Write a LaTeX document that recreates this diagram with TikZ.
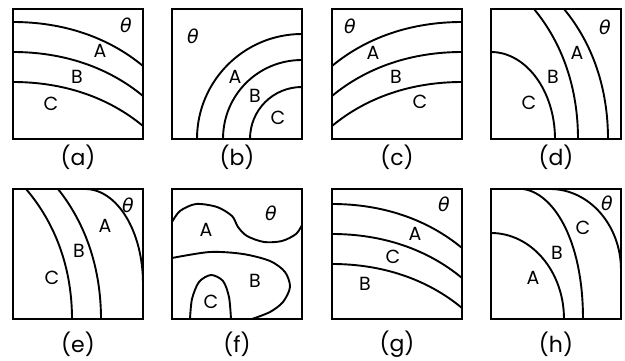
\documentclass[tikz,border=0pt]{standalone}
\usepackage{fontspec}
\setmainfont{Poppins}
\newfontfamily\greekfont{DejaVu Sans}
\tikzset{panel/.style = {line width = 2.2pt}}
\tikzset{zone/.style = {line width = 1.9pt}}
\tikzset{region/.style = {inner sep = 0, font = \fontsize{19}{19}\selectfont}}
\tikzset{phase/.style = {inner sep = 0, font = \greekfont\itshape\fontsize{19}{19}\selectfont}}
\tikzset{caption/.style = {inner sep = 0, font = \fontsize{22}{22}\selectfont}}

\begin{document}
\begin{tikzpicture}[x = 1pt, y = -1pt]
    \useasboundingbox (0, 0) rectangle (625, 361);

    % (a)
    \begin{scope}[shift = {(13, 9)}]
      \draw [panel] (0, 0) rectangle (130, 130);
      \draw [zone] (0, 13) .. controls (50, 13) and (95, 28) .. (130, 57);
      \draw [zone] (0, 43) .. controls (50, 43) and (95, 58) .. (130, 87);
      \draw [zone] (0, 73) .. controls (50, 73) and (95, 88) .. (130, 117);
      \node [phase] (a-theta) at (113, 16) {θ};
      \node [region] (a-A) at (87, 42) {A};
      \node [region] (a-B) at (64, 68) {B};
      \node [region] (a-C) at (38, 95) {C};
      \node [caption] (a-cap) at (65, 148) {(a)};
    \end{scope}

    % (b)
    \begin{scope}[shift = {(172, 9)}]
      \draw [panel] (0, 0) rectangle (130, 130);
      \draw [zone] (25, 130) .. controls (25, 72) and (72, 25) .. (130, 25);
      \draw [zone] (51, 130) .. controls (51, 86) and (86, 51) .. (130, 51);
      \draw [zone] (78, 130) .. controls (78, 101) and (101, 78) .. (130, 78);
      \node [phase] (b-theta) at (21, 27) {θ};
      \node [region] (b-A) at (63, 68) {A};
      \node [region] (b-B) at (83, 87) {B};
      \node [region] (b-C) at (106, 109) {C};
      \node [caption] (b-cap) at (65, 148) {(b)};
    \end{scope}

    % (c)
    \begin{scope}[shift = {(332, 9)}]
      \draw [panel] (0, 0) rectangle (130, 130);
      \draw [zone] (130, 13) .. controls (80, 13) and (35, 28) .. (0, 57);
      \draw [zone] (130, 43) .. controls (80, 43) and (35, 58) .. (0, 87);
      \draw [zone] (130, 73) .. controls (80, 73) and (35, 88) .. (0, 117);
      \node [phase] (c-theta) at (18, 17) {θ};
      \node [region] (c-A) at (41, 44) {A};
      \node [region] (c-B) at (64, 68) {B};
      \node [region] (c-C) at (88, 93) {C};
      \node [caption] (c-cap) at (65, 148) {(c)};
    \end{scope}

    % (d)
    \begin{scope}[shift = {(491, 9)}]
      \draw [panel] (0, 0) rectangle (130, 130);
      \draw [zone] (117, 130) .. controls (117, 80) and (102, 35) .. (73, 0);
      \draw [zone] (87, 130) .. controls (87, 80) and (72, 35) .. (43, 0);
      \draw [zone] (0, 43) .. controls (35, 43) and (64, 82) .. (64, 130);
      \node [phase] (d-theta) at (114, 18) {θ};
      \node [region] (d-A) at (86, 44) {A};
      \node [region] (d-B) at (62, 68) {B};
      \node [region] (d-C) at (38, 94) {C};
      \node [caption] (d-cap) at (65, 148) {(d)};
    \end{scope}

    % (e)
    \begin{scope}[shift = {(13, 189)}]
      \draw [panel] (0, 0) rectangle (130, 130);
      \draw [zone] (72, 0) .. controls (104, 0) and (130, 42) .. (130, 95);
      \draw [zone] (88, 130) .. controls (88, 80) and (73, 35) .. (45, 0);
      \draw [zone] (59, 130) .. controls (59, 80) and (43, 35) .. (13, 0);
      \node [phase] (e-theta) at (115, 16) {θ};
      \node [region] (e-A) at (92, 37) {A};
      \node [region] (e-B) at (66, 62) {B};
      \node [region] (e-C) at (39, 89) {C};
      \node [caption] (e-cap) at (65, 155) {(e)};
    \end{scope}

    % (f)
    \begin{scope}[shift = {(172, 189)}]
      \draw [panel] (0, 0) rectangle (130, 130);
      \draw [zone] plot [smooth] coordinates {(0, 33) (8, 22) (24, 15) (45, 18) (60, 27) (66, 38) (75, 47) (92, 53) (110, 52) (124, 45) (130, 36)};
      \draw [zone] plot [smooth] coordinates {(0, 69) (38, 63) (71, 65) (98, 72) (113, 83) (118, 98) (111, 113) (98, 123) (80, 130)};
      \draw [zone] plot [smooth] coordinates {(18, 130) (20, 110) (27, 93) (39, 86) (51, 92) (57, 108) (59, 130)};
      \node [phase] (f-theta) at (99, 24) {θ};
      \node [region] (f-A) at (34, 41) {A};
      \node [region] (f-B) at (83, 92) {B};
      \node [region] (f-C) at (39, 113) {C};
      \node [caption] (f-cap) at (65, 155) {(f)};
    \end{scope}

    % (g)
    \begin{scope}[shift = {(332, 189)}]
      \draw [panel] (0, 0) rectangle (130, 130);
      \draw [zone] (0, 15) .. controls (50, 15) and (95, 30) .. (130, 59);
      \draw [zone] (0, 45) .. controls (50, 45) and (95, 60) .. (130, 89);
      \draw [zone] (0, 75) .. controls (50, 75) and (95, 90) .. (130, 119);
      \node [phase] (g-theta) at (112, 15) {θ};
      \node [region] (g-A) at (83, 45) {A};
      \node [region] (g-C) at (61, 68) {C};
      \node [region] (g-B) at (33, 95) {B};
      \node [caption] (g-cap) at (65, 155) {(g)};
    \end{scope}

    % (h)
    \begin{scope}[shift = {(491, 189)}]
      \draw [panel] (0, 0) rectangle (130, 130);
      \draw [zone] (59, 0) .. controls (98, 0) and (130, 36) .. (130, 81);
      \draw [zone] (32, 0) .. controls (62, 4) and (92, 50) .. (92, 130);
      \draw [zone] (0, 44) .. controls (40, 44) and (73, 82) .. (73, 130);
      \node [phase] (h-theta) at (116, 14) {θ};
      \node [region] (h-C) at (92, 39) {C};
      \node [region] (h-B) at (66, 64) {B};
      \node [region] (h-A) at (42, 89) {A};
      \node [caption] (h-cap) at (65, 155) {(h)};
    \end{scope}
  \end{tikzpicture}
\end{document}
